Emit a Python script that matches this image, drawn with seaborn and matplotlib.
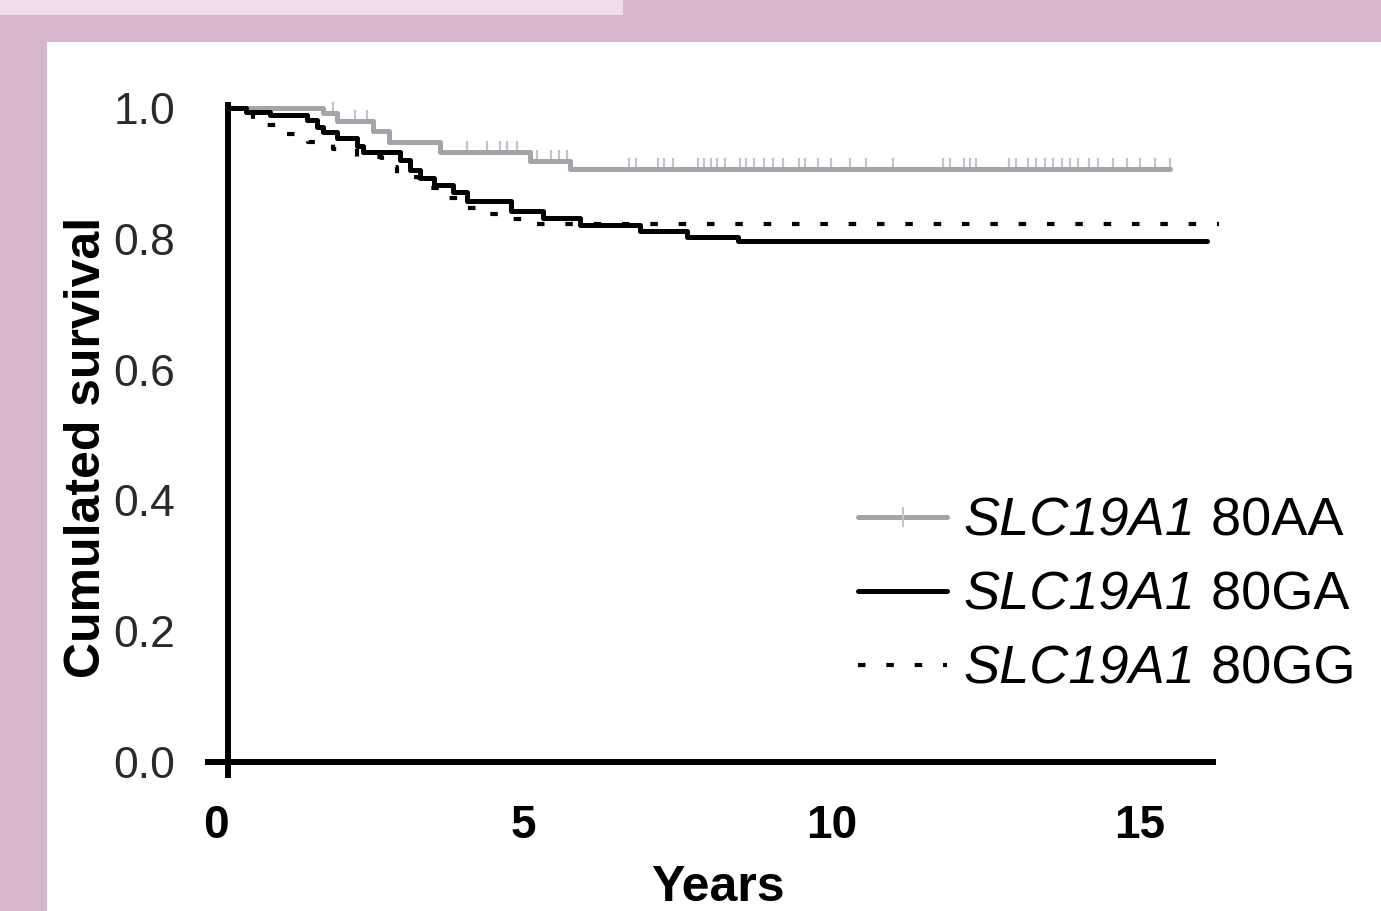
import numpy as np
import pandas as pd
import matplotlib
matplotlib.use("Agg")
import matplotlib.pyplot as plt
import seaborn as sns
from matplotlib.lines import Line2D
from matplotlib.patches import Rectangle
from matplotlib.transforms import ScaledTranslation

# Kaplan-Meier steps (years, cumulated survival)
aa_time = [0, 1.55, 1.77, 2.36, 2.61, 3.45, 4.91, 5.56, 15.3]
aa_surv = [1.0, 0.992, 0.980, 0.965, 0.948, 0.933, 0.920, 0.907, 0.907]
aa_censor = [1.71, 2.07, 2.26, 3.88, 4.21, 4.42, 4.53, 4.69, 5.02, 5.24, 5.37, 5.51,
             6.52, 6.62, 6.99, 7.09, 7.23, 7.63, 7.74, 7.84, 7.94, 8.07, 8.31, 8.41,
             8.54, 8.71, 8.85, 9.02, 9.28, 9.38, 9.59, 9.79, 10.10, 10.37, 10.80,
             11.61, 11.72, 11.95, 12.05, 12.15, 12.69, 12.80, 13.0, 13.13, 13.27,
             13.40, 13.54, 13.67, 13.81, 13.98, 14.14, 14.38, 14.61, 14.81, 15.05, 15.3]

ga_time = [0, 0.30, 0.68, 1.28, 1.44, 1.55, 1.77, 2.09, 2.20, 2.80, 2.96, 3.12, 3.34,
           3.66, 3.88, 4.59, 5.12, 5.72, 6.69, 7.46, 8.28, 15.9]
ga_surv = [1.0, 0.995, 0.990, 0.982, 0.972, 0.964, 0.954, 0.943, 0.933, 0.921, 0.906,
           0.893, 0.882, 0.872, 0.858, 0.843, 0.832, 0.821, 0.812, 0.803, 0.797, 0.797]

gg_time = [0, 0.40, 0.90, 1.30, 1.70, 2.10, 2.50, 2.75, 3.10, 3.45, 3.80, 4.15, 4.45, 4.80, 16.1]
gg_surv = [1.0, 0.975, 0.960, 0.948, 0.938, 0.925, 0.910, 0.895, 0.878, 0.862, 0.848,
           0.838, 0.830, 0.823, 0.823]

gene = 'SLC19A1'
labels = ['80AA', '80GA', '80GG']
x_ticks = [0, 5, 10, 15]
y_ticks = [0.0, 0.2, 0.4, 0.6, 0.8, 1.0]

gray = '#a3a3aa'
dots = (0, (1.8, 5.0))
sns.set_style('white')
plt.rcParams['font.family'] = ['Liberation Sans', 'DejaVu Sans']
plt.rcParams['text.color'] = 'black'

fig = plt.figure(figsize=(13.81, 9.11), dpi=100, facecolor='#d7b7d0')
# white panel and light strip on the pink page
fig.patches.append(Rectangle((47 / 1381, 0), 1, (911 - 42) / 911, transform=fig.transFigure,
                             facecolor='white', edgecolor='none', zorder=-5))
fig.patches.append(Rectangle((0, (911 - 15) / 911), 623 / 1381, 1, transform=fig.transFigure,
                             facecolor='#eddde9', edgecolor='none', zorder=-5))

ax = fig.add_axes([208 / 1381, 136 / 911, 1005 / 1381, 670 / 911])
ax.patch.set_alpha(0)
ax.set_zorder(2)

# Curves
line_w = 3.6
sns.lineplot(x=aa_time, y=aa_surv, drawstyle='steps-post', estimator=None, sort=False,
             color=gray, lw=line_w, ax=ax, clip_on=False, zorder=3)
sns.lineplot(x=ga_time, y=ga_surv, drawstyle='steps-post', estimator=None, sort=False,
             color='black', lw=line_w, ax=ax, clip_on=False, zorder=4)
sns.lineplot(x=gg_time, y=gg_surv, drawstyle='steps-post', estimator=None, sort=False,
             color='black', lw=3.0, ls=dots, dash_capstyle='butt',
             ax=ax, clip_on=False, zorder=5)

# censor ticks on the AA curve (level taken from the step it falls on)
idx = np.searchsorted(aa_time, aa_censor, side='right') - 1
censor_level = np.array(aa_surv)[np.clip(idx, 0, len(aa_surv) - 1)]
ax.plot(aa_censor, censor_level, ls='', marker=[(0, 0), (0, 1)], ms=16, mew=1.6,
        color='#c4c4c8', clip_on=False, zorder=2)

# Axes
ax.set_xlim(-0.325, 16.0)
ax.set_ylim(-0.02, 1.005)
ax.spines['left'].set_position(('data', 0))
ax.spines['bottom'].set_position(('data', 0))
for s in ['top', 'right']:
    ax.spines[s].set_visible(False)
for s in ['left', 'bottom']:
    ax.spines[s].set_linewidth(4.3)
    ax.spines[s].set_color('black')
ax.set_xticks(x_ticks)
ax.set_yticks(y_ticks)
ax.set_yticklabels([f'{v:.1f}' for v in y_ticks])
ax.tick_params(axis='both', direction='out', length=14, width=4.3, color='black')
ax.tick_params(axis='y', labelsize=32, pad=24, labelcolor='#2a2a2a')
ax.tick_params(axis='x', labelsize=33, pad=16, labelcolor='black')
for lab in ax.get_xticklabels():
    lab.set_fontweight('bold')
    lab.set_transform(lab.get_transform() + ScaledTranslation(-0.12, 0, fig.dpi_scale_trans))
ax.set_xlabel('')
ax.set_ylabel('')

fig.text(718 / 1381, 1 - 888 / 911, 'Years', ha='center', va='center',
         fontsize=36, fontweight='bold', zorder=5)
fig.text(87 / 1381, 1 - 447 / 911, 'Cumulated survival', ha='center', va='center',
         rotation=90, fontsize=36, fontweight='bold', zorder=5)

# Legend: italic gene name, genotype in upright type right after it
handles = [
    Line2D([], [], color=gray, lw=line_w, marker='|', ms=14, mew=1.5, markeredgecolor='#c4c4c8'),
    Line2D([], [], color='black', lw=line_w),
    Line2D([], [], color='black', lw=3.0, ls=dots, dash_capstyle='butt'),
]
leg = ax.legend(handles, [gene] * len(labels),
                loc='upper left', bbox_to_anchor=(858 / 1381, 1 - 497 / 911),
                bbox_transform=fig.transFigure, frameon=False, fontsize=39,
                handlelength=1.65, handletextpad=0.3, labelspacing=0.44,
                borderpad=0, borderaxespad=0, numpoints=1)
for txt, lab in zip(leg.get_texts(), labels):
    txt.set_fontstyle('italic')
    ax.annotate(' ' + lab, xy=(1, 0), xycoords=txt, ha='left', va='bottom',
                fontsize=39, zorder=6)

fig.savefig('out.png', dpi=100, facecolor=fig.get_facecolor())
